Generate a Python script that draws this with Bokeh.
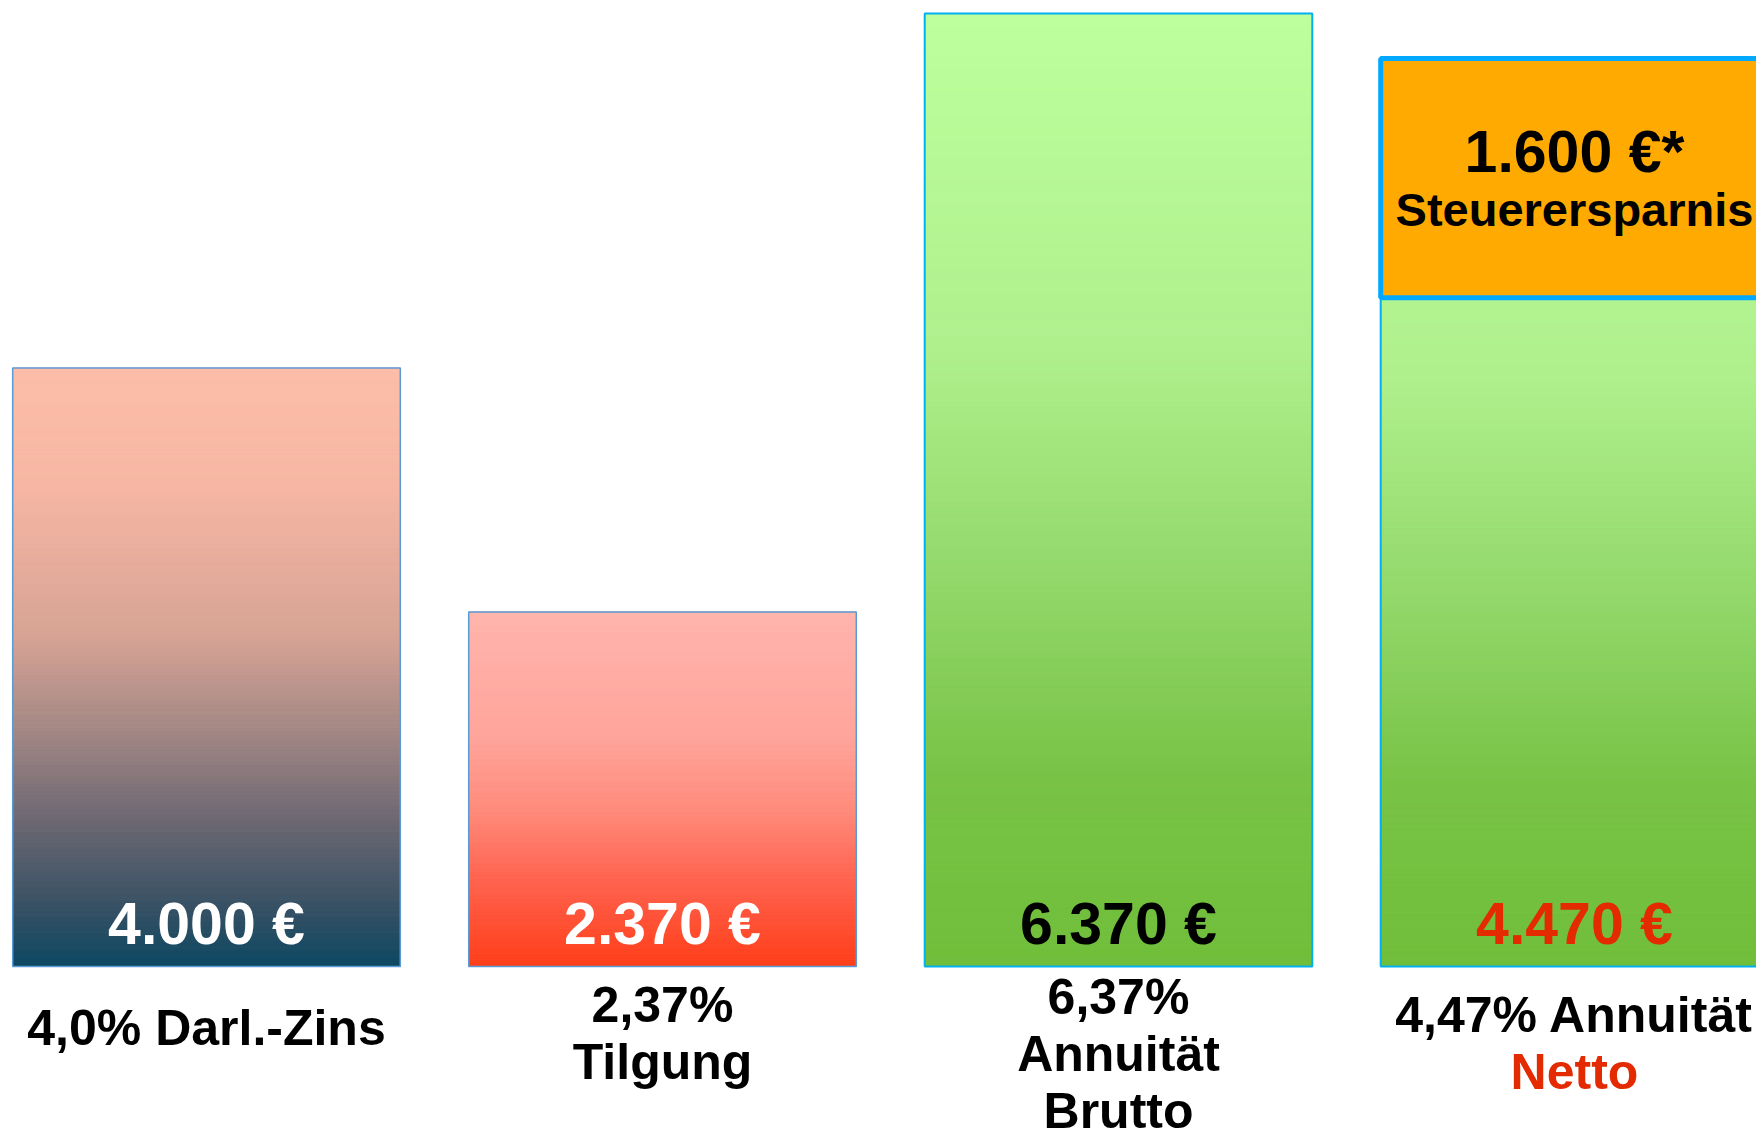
import numpy as np
from bokeh.plotting import figure
from bokeh.models import Range1d, ColumnDataSource
from bokeh.core.properties import value
from bokeh.embed import file_html
from bokeh.resources import INLINE

# ---------------- data ----------------
categories = ["Darl.-Zins", "Tilgung", "Annuität Brutto", "Annuität Netto"]
amounts = [4000, 2370, 6370, 4470]
value_labels = ["4.000 €", "2.370 €", "6.370 €", "4.470 €"]
savings = 1600
savings_label = "1.600 €*"
savings_caption = "Steuerersparnis"
category_lines = [
    ["4,0% Darl.-Zins"],
    ["2,37%", "Tilgung"],
    ["6,37%", "Annuität", "Brutto"],
    ["4,47% Annuität", "Netto"],
]

# ---------------- styles / layout ----------------
W, H = 1756, 1140
spacing_px = 456.0
first_center_px = 206.0
base_px = 966.0
s = (base_px - 13.0) / max(amounts)  # px per euro
bar_w = 0.85
FONT = value("Liberation Sans")
TEXT_FIX = 0.36  # baseline correction (fraction of font size)

value_colors = ["#FFFFFF", "#FFFFFF", "#000000", "#E42A00"]
line_colors = [["#000000"], ["#000000", "#000000"], ["#000000", "#000000", "#000000"], ["#000000", "#E42A00"]]
label_first_offsets = [79, 56, 48, 66]  # px below baseline
line_height = 57
outline_colors = ["#5B9BD5", "#5B9BD5", "#00B0F0", "#00B0F0"]
outline_widths = [1.5, 1.5, 2, 2]

# gradient stops, t = 0 at top, 1 at bottom
grad_stops = [
    [(0.0, (252, 189, 168)), (0.2, (246, 182, 163)), (0.45, (214, 163, 148)), (0.6, (165, 136, 133)),
     (0.75, (110, 105, 115)), (0.9, (55, 80, 100)), (1.0, (12, 72, 98))],
    [(0.0, (255, 180, 172)), (0.35, (255, 165, 155)), (0.55, (255, 140, 125)), (0.75, (255, 100, 80)),
     (1.0, (255, 62, 25))],
    [(0.0, (188, 255, 156)), (0.35, (175, 240, 140)), (0.6, (145, 215, 105)), (0.8, (120, 195, 70)),
     (1.0, (112, 190, 58))],
    [(0.0, (188, 255, 156)), (0.35, (175, 240, 140)), (0.6, (145, 215, 105)), (0.8, (120, 195, 70)),
     (1.0, (112, 190, 58))],
]


def grad_color(stops, t):
    for (t0, c0), (t1, c1) in zip(stops[:-1], stops[1:]):
        if t <= t1:
            f = 0 if t1 == t0 else (t - t0) / (t1 - t0)
            rgb = [int(round(a + (b - a) * f)) for a, b in zip(c0, c1)]
            return "#%02x%02x%02x" % tuple(rgb)
    return "#%02x%02x%02x" % stops[-1][1]


def px_up(px, font_px):
    """data-unit y for a text baseline `px` pixels above the bar baseline"""
    return (px + TEXT_FIX * font_px) / s


p = figure(width=W, height=H, output_backend="svg", toolbar_location=None,
           x_range=Range1d(-first_center_px / spacing_px, (W - first_center_px) / spacing_px),
           y_range=Range1d(-(H - base_px) / s, base_px / s),
           min_border=0, background_fill_color="white", border_fill_color="white")
p.axis.visible = False
p.grid.visible = False
p.outline_line_color = None

xs = np.arange(len(amounts))
N = 160

# gradient bars
for i, amt in enumerate(amounts):
    top_ref = amt + (savings if i == 3 else 0)
    edges = np.linspace(0, amt, N + 1)
    cols = [grad_color(grad_stops[i], 1 - ((edges[k] + edges[k + 1]) / 2) / top_ref) for k in range(N)]
    src = ColumnDataSource(dict(left=[xs[i] - bar_w / 2] * N, right=[xs[i] + bar_w / 2] * N,
                                bottom=edges[:-1], top=edges[1:], c=cols))
    p.quad(left="left", right="right", bottom="bottom", top="top", fill_color="c",
           line_color="c", line_width=1, source=src)
    p.quad(left=[xs[i] - bar_w / 2], right=[xs[i] + bar_w / 2], bottom=[0], top=[amt],
           fill_alpha=0, line_color=outline_colors[i], line_width=outline_widths[i])

# savings box on top of last bar
p.quad(left=[xs[3] - bar_w / 2], right=[xs[3] + bar_w / 2], bottom=[amounts[3]],
       top=[amounts[3] + savings], fill_color="#FFAA00", line_color="#00A8FF", line_width=5)

# value labels inside bars
p.text(x=list(xs), y=[px_up(21, 59)] * len(xs), text=value_labels, text_color=value_colors,
       text_font=FONT, text_font_style="bold", text_font_size="59px",
       text_align="center", text_baseline="alphabetic")

mid = amounts[3] + savings / 2
p.text(x=[xs[3]], y=[mid + (5 + TEXT_FIX * 59) / s], text=[savings_label], text_color="#000000",
       text_font=FONT, text_font_style="bold", text_font_size="59px",
       text_align="center", text_baseline="alphabetic")
p.text(x=[xs[3]], y=[mid + (-48 + TEXT_FIX * 47) / s], text=[savings_caption], text_color="#000000",
       text_font=FONT, text_font_style="bold", text_font_size="47px",
       text_align="center", text_baseline="alphabetic")

# category labels below bars
lx, ly, lt, lc = [], [], [], []
for i, lines in enumerate(category_lines):
    for j, t in enumerate(lines):
        lx.append(xs[i])
        ly.append(px_up(-(label_first_offsets[i] + j * line_height), 50))
        lt.append(t)
        lc.append(line_colors[i][j])
p.text(x=lx, y=ly, text=lt, text_color=lc, text_font=FONT, text_font_style="bold",
       text_font_size="50px", text_align="center", text_baseline="alphabetic")

open("out.html", "w").write(file_html(p, INLINE))
